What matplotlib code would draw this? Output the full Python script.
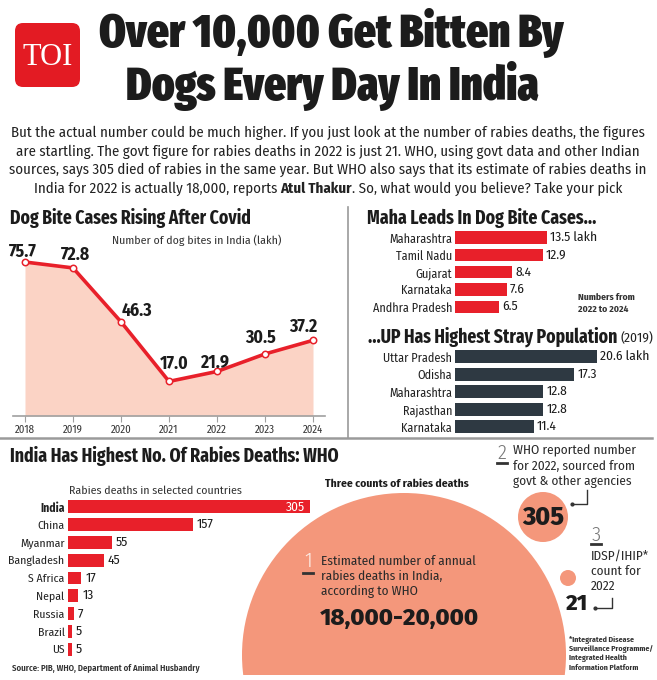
import matplotlib
matplotlib.use('Agg')
import matplotlib.pyplot as plt
from matplotlib import font_manager
from matplotlib.patches import Circle, FancyBboxPatch, Rectangle

W, H = 657, 680

# data
years = [2018, 2019, 2020, 2021, 2022, 2023, 2024]
bites = [75.7, 72.8, 46.3, 17.0, 21.9, 30.5, 37.2]

bite_states = ['Maharashtra', 'Tamil Nadu', 'Gujarat', 'Karnataka', 'Andhra Pradesh']
bite_cases = [13.5, 12.9, 8.4, 7.6, 6.5]

stray_states = ['Uttar Pradesh', 'Odisha', 'Maharashtra', 'Rajasthan', 'Karnataka']
stray_pop = [20.6, 17.3, 12.8, 12.8, 11.4]

countries = ['India', 'China', 'Myanmar', 'Bangladesh', 'S Africa', 'Nepal', 'Russia', 'Brazil', 'US']
rabies = [305, 157, 55, 45, 17, 13, 7, 5, 5]

count_labels = ['18,000-20,000', '305', '21']


# pilih font yang tersedia
def pick(fams, weight, fallback='DejaVu Sans'):
    for fam in fams:
        ws = []
        for f in font_manager.fontManager.ttflist:
            if f.name == fam:
                w = f.weight
                if not isinstance(w, int):
                    w = font_manager.weight_dict.get(w, 400)
                ws.append(w)
        if any(w >= weight for w in ws) and any(w <= 400 for w in ws):
            return fam
    return fallback


HEAD = pick(['Fira Sans Extra Condensed', 'Barlow Condensed', 'Roboto Condensed', 'PT Sans Narrow'], 800)
BODY = pick(['Fira Sans Condensed', 'Roboto Condensed', 'Barlow Semi Condensed', 'PT Sans Narrow'], 700)
NUM = pick(['Fira Sans', 'Roboto', 'Lato'], 800, 'Liberation Sans')

RED = '#e8202a'
SLATE = '#2e3942'
INK = '#1c1c1c'
SALMON = '#f4977b'

fig = plt.figure(figsize=(W / 100, H / 100), dpi=100)
bg = fig.add_axes([0, 0, 1, 1], zorder=0)
bg.set_xlim(0, W)
bg.set_ylim(H, 0)
bg.axis('off')
rend = fig.canvas.get_renderer()


def px_axes(x0, y0, x1, y1):
    ax = fig.add_axes([x0 / W, 1 - y1 / H, (x1 - x0) / W, (y1 - y0) / H], zorder=2)
    ax.set_facecolor('none')
    return ax


def txt(x, y, s, size, weight='normal', color=INK, ha='left', va='center', fam=None, **kw):
    return bg.text(x, y, s, fontsize=size, fontweight=weight, color=color, ha=ha, va=va,
                   family=fam or BODY, **kw)


def size_for(s, target, fam, weight='normal'):
    t = bg.text(0, 0, s, fontsize=10, family=fam, fontweight=weight)
    w = t.get_window_extent(rend).width
    t.remove()
    return 10 * target / w


# ---------- header ----------
bg.add_patch(FancyBboxPatch((15, 23), 65, 64, boxstyle='round,pad=0,rounding_size=8',
                            fc='#e31b23', ec='none'))
txt(47.5, 65, 'TOI', 22, color='white', ha='center', va='baseline', fam='Liberation Serif')
ts = size_for('Over 10,000 Get Bitten By', 468, HEAD, 900)
txt(331, 47, 'Over 10,000 Get Bitten By', ts, 900, ha='center', va='baseline', fam=HEAD)
txt(332, 100, 'Dogs Every Day In India', ts, 900, ha='center', va='baseline', fam=HEAD)

para = ['But the actual number could be much higher. If you just look at the number of rabies deaths, the figures',
        'are startling. The govt figure for rabies deaths in 2022 is just 21. WHO, using govt data and other Indian',
        'sources, says 305 died of rabies in the same year. But WHO also says that its estimate of rabies deaths in']
ps = size_for(para[0], 633, BODY)
for i, line in enumerate(para):
    txt(328, 133 + i * 18.5, line, ps, color='#222', ha='center')

# baris ke-4 dengan nama tebal
pieces = [('India for 2022 is actually 18,000, reports ', 'normal'), ('Atul Thakur', 'bold'),
          ('. So, what would you believe? Take your pick', 'normal')]
objs = [txt(0, 188.5, p, ps, w, color='#222') for p, w in pieces]
widths = [o.get_window_extent(rend).width for o in objs]
x = 328 - sum(widths) / 2
for o, wd in zip(objs, widths):
    o.set_x(x)
    x += wd

# ---------- dividers ----------
bg.plot([348, 348], [207, 438], color='#9a9a9a', lw=1.2)
bg.plot([0, 652], [438, 438], color='#9a9a9a', lw=1.8)

# ---------- dog bites line chart ----------
txt(10, 218, 'Dog Bite Cases Rising After Covid',
    size_for('Dog Bite Cases Rising After Covid', 242, HEAD, 700), 700, fam=HEAD)
txt(112, 241, 'Number of dog bites in India (lakh)',
    size_for('Number of dog bites in India (lakh)', 168, BODY), color='#333')

ax1 = px_axes(13, 245, 325, 416)
ax1.set_xlim(2017.75, 2024.25)
ax1.set_ylim(0, (416 - 245) / 2.034)
ax1.fill_between(years, bites, 0, color='#fbd3c5', lw=0)
ax1.plot(years, bites, color=RED, lw=2.6, marker='o', ms=4.6, mfc='white', mec=RED, mew=1.1,
         solid_joinstyle='round', clip_on=False)
vs = size_for('75.7', 28, BODY, 700)
offs = [(-2, 10), (2, 13), (16, 11), (5, 18), (-2, 9), (-4, 16), (-10, 13)]
for yr, v, (dx, dy) in zip(years, bites, offs):
    ax1.annotate(f'{v:.1f}', (yr, v), xytext=(dx, dy), textcoords='offset pixels',
                 ha='center', va='center', fontsize=vs, fontweight='bold', family=BODY, color=INK)
for s in ['top', 'right', 'left']:
    ax1.spines[s].set_visible(False)
ax1.spines['bottom'].set_color('#a0a0a0')
ax1.spines['bottom'].set_linewidth(1.2)
ax1.set_yticks([])
ax1.set_xticks(years)
ax1.set_xticklabels([str(y) for y in years], family=BODY, fontsize=size_for('2018', 20, BODY),
                    color='#333')
ax1.tick_params(axis='x', length=4, color='#a0a0a0', pad=2)

# ---------- bar charts on right ----------
ls = size_for('Maharashtra', 63, BODY)
vls = size_for('13.5 lakh', 47, BODY)


def hbars(ax, labels, vals, color, unit):
    ys = list(range(len(vals)))
    ax.barh(ys, vals, height=0.72, color=color)
    ax.set_ylim(len(vals) - 0.5, -0.5)
    ax.set_yticks(ys)
    ax.set_yticklabels(labels, family=BODY, fontsize=ls, color='#222')
    ax.tick_params(axis='y', length=0, pad=2.2)
    ax.set_xticks([])
    for s in ax.spines.values():
        s.set_visible(False)
    for i, v in enumerate(vals):
        lab = f'{v:g}' + (unit if i == 0 else '')
        ax.annotate(lab, (v, i), xytext=(3, 0), textcoords='offset pixels', ha='left', va='center',
                    family=BODY, fontsize=vls, color=INK)


txt(367, 218, 'Maha Leads In Dog Bite Cases...',
    size_for('Maha Leads In Dog Bite Cases...', 230, HEAD, 700), 700, fam=HEAD)
ax2 = px_axes(455, 229, 640, 315.5)
ax2.set_xlim(0, 185 / 6.8)
hbars(ax2, bite_states, bite_cases, RED, ' lakh')
ns = size_for('Numbers from', 57, BODY, 'bold')
txt(578, 297, 'Numbers from', ns, 'bold', color='#333')
txt(578, 309, '2022 to 2024', ns, 'bold', color='#333')

t = txt(368, 337, '...UP Has Highest Stray Population',
        size_for('...UP Has Highest Stray Population', 249, HEAD, 700), 700, fam=HEAD)
ext = t.get_window_extent(rend)
txt(ext.x1 + 3, 338, '(2019)', size_for('(2019)', 33, BODY), color='#222')
ax3 = px_axes(455, 348, 640, 435.5)
ax3.set_xlim(0, 185 / 6.9)
hbars(ax3, stray_states, stray_pop, SLATE, ' lakh')

# ---------- rabies deaths ----------
txt(10, 456, 'India Has Highest No. Of Rabies Deaths: WHO',
    size_for('India Has Highest No. Of Rabies Deaths: WHO', 330, HEAD, 700), 700, fam=HEAD)
txt(69, 491, 'Rabies deaths in selected countries',
    size_for('Rabies deaths in selected countries', 172, BODY), color='#333')
ax4 = px_axes(68, 498, 330, 658)
ax4.set_xlim(0, 262 / 0.793)
ys = list(range(len(rabies)))
ax4.barh(ys, rabies, height=0.73, color=RED)
ax4.set_ylim(len(rabies) - 0.5, -0.5)
ax4.set_yticks(ys)
cs = size_for('Bangladesh', 56, BODY)
ax4.set_yticklabels(countries, family=BODY, fontsize=cs, color='#222')
ax4.get_yticklabels()[0].set_fontweight('bold')
ax4.tick_params(axis='y', length=0, pad=2.5)
ax4.set_xticks([])
for s in ax4.spines.values():
    s.set_visible(False)
rs = size_for('157', 17, BODY)
for i, v in enumerate(rabies):
    if i == 0:
        ax4.annotate(str(v), (v, i), xytext=(-5, 0), textcoords='offset pixels', ha='right',
                     va='center', family=BODY, fontsize=rs, color='white')
    else:
        ax4.annotate(str(v), (v, i), xytext=(4, 0), textcoords='offset pixels', ha='left',
                     va='center', family=BODY, fontsize=rs, color=INK)
src = 'Source: PIB, WHO, Department of Animal Husbandry'
txt(12, 668, src, size_for(src, 188, BODY, 600), 600, color='#333')

# ---------- three counts bubbles ----------
bg.add_patch(Circle((404, 655), 162, fc=SALMON, ec='none'))
bg.add_patch(Rectangle((230, 675), 360, 10, fc='white', ec='none', zorder=3))
bg.add_patch(Circle((543, 517), 25, fc=SALMON, ec='none'))
bg.add_patch(Circle((568, 578), 8, fc=SALMON, ec='none'))

tc = 'Three counts of rabies deaths'
txt(397, 484, tc, size_for(tc, 143, BODY, 'bold'), 'bold', ha='center')

bs = size_for('Estimated number of annual', 155, BODY)
txt(308, 567, '1', 15, 300, color='#fdeee8', ha='center', va='baseline')
bg.plot([303, 313], [573, 573], color='#333', lw=2)
for i, line in enumerate(['Estimated number of annual', 'rabies deaths in India,', 'according to WHO']):
    txt(321, 561 + i * 15, line, bs, color='#2a2a2a')
txt(320, 618, count_labels[0], size_for(count_labels[0], 162, NUM, 800), 800, fam=NUM)

txt(502, 459, '2', 15, 300, color='#777', ha='center', va='baseline')
bg.plot([497, 507], [463, 463], color='#333', lw=2)
for i, line in enumerate(['WHO reported number', 'for 2022, sourced from', 'govt & other agencies']):
    txt(513, 451 + i * 15, line, bs, color='#2a2a2a')
txt(543, 518, count_labels[1], size_for(count_labels[1], 42, NUM, 800), 800, fam=NUM, ha='center')
bg.plot([587, 587, 572], [490, 504, 504], color='#333', lw=1)
bg.plot([572], [504], 'o', color='#333', ms=2)

txt(596, 541, '3', 15, 300, color='#777', ha='center', va='baseline')
bg.plot([591, 601], [544, 544], color='#333', lw=2)
for i, line in enumerate(['IDSP/IHIP*', 'count for', '2022']):
    txt(591, 556 + i * 15, line, bs, color='#2a2a2a')
txt(577, 604, count_labels[2], size_for(count_labels[2], 22, NUM, 800), 800, fam=NUM, ha='center')
bg.plot([612, 612, 595], [598, 608, 608], color='#333', lw=1)
bg.plot([595], [608], 'o', color='#333', ms=2)

fs = size_for('Surveillance Programme/', 84, BODY, 'bold')
for i, line in enumerate(['*Integrated Disease', 'Surveillance Programme/', 'Integrated Health',
                          'Information Platform']):
    txt(569, 640 + i * 9.3, line, fs, 'bold', color='#333')

fig.savefig('out.png', dpi=100, facecolor='white')
